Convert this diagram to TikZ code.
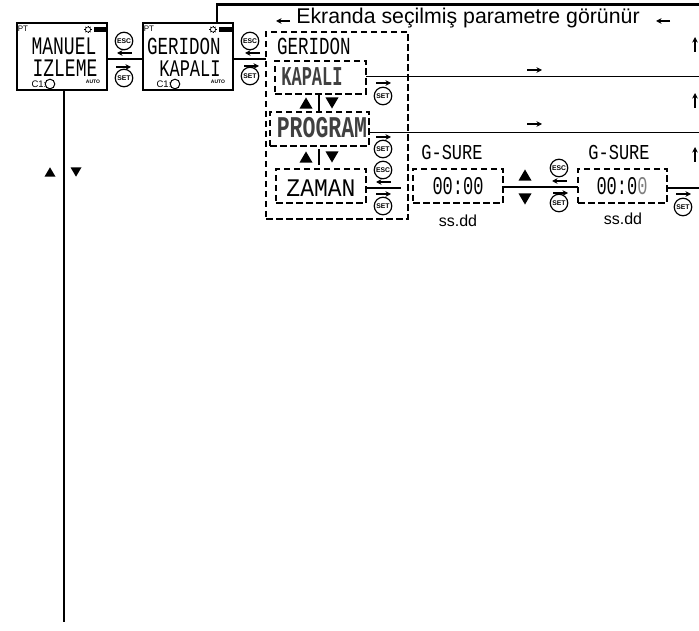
\documentclass[tikz,border=0pt]{standalone}
\usepackage{fontspec}
\setmainfont{Liberation Sans}
\newfontfamily\lcdfont{Liberation Mono}
\usetikzlibrary{arrows.meta}
\newcommand{\lcd}[3]{\scalebox{1}[#2]{\fontsize{#1}{#1}\lcdfont #3}}
\newcommand{\uptri}[3]{\fill (#1-#3,#2+0.85*#3) -- (#1+#3,#2+0.85*#3) -- (#1,#2-0.85*#3) -- cycle;}
\newcommand{\dntri}[3]{\fill (#1-#3,#2-0.85*#3) -- (#1+#3,#2-0.85*#3) -- (#1,#2+0.85*#3) -- cycle;}
\tikzset{
  lcdbox/.style={draw,line width=1.5pt,minimum width=90pt,minimum height=67pt,inner sep=0pt,outer sep=0pt},
  dashbox/.style={draw,line width=2.2pt,dash pattern=on 6.5pt off 3.5pt,inner sep=0pt,outer sep=0pt},
  keyb/.style={draw,circle,line width=1.2pt,minimum size=17.5pt,inner sep=0pt,font=\fontsize{6.8}{6.8}\selectfont\bfseries},
  conn/.style={line width=1.6pt},
  topconn/.style={line width=2.2pt},
  arr/.style={line width=1.3pt,-{Stealth[length=5.5pt,width=5.5pt]}},
  txt/.style={inner sep=0pt},
}
\begin{document}
\begin{tikzpicture}[x=1pt,y=-1pt]
\useasboundingbox (0,0) rectangle (699,631);
% displays
\node[lcdbox] (b1) at (62,56.5) {};
\node[lcdbox] (b2) at (188,56.5) {};
\node[txt,font=\fontsize{8}{8}\selectfont] (pt1) at (23,28.5) {PT};
\node[txt,font=\fontsize{8}{8}\selectfont] (pt2) at (149,28.5) {PT};
\node[txt] (t1a) at (64,46) {\lcd{18}{1.4}{MANUEL}};
\node[txt] (t1b) at (65,68.5) {\lcd{18}{1.4}{IZLEME}};
\node[txt] (t2a) at (184,46) {\lcd{17.5}{1.4}{GERIDON}};
\node[txt] (t2b) at (190,68.5) {\lcd{17}{1.4}{KAPALI}};
\node[txt,font=\fontsize{9.5}{9.5}\selectfont] (c1) at (39,84) {C1:};
\node[txt,font=\fontsize{9.5}{9.5}\selectfont] (c2) at (164,84) {C1:};
\draw[line width=1pt] (50,84) circle (4.8);
\draw[line width=1pt] (175,84) circle (4.8);
\node[txt,font=\fontsize{5}{5}\selectfont\bfseries] (a1) at (93,82) {AUTO};
\node[txt,font=\fontsize{5}{5}\selectfont\bfseries] (a2) at (218,82) {AUTO};
\foreach \sx/\bx in {88/94,213/219}{
  \draw[line width=.7pt] (\sx,29.5) circle (2.6);
  \foreach \an in {0,45,...,315}{\draw[line width=.4pt] (\sx,29.5) ++(\an:2.6) -- ++(\an:1.2);}
  \fill (\bx,27) rectangle (\bx+13,32);
}
% top banner
\coordinate (topright) at (699,4.5);
\draw[topconn] (b2.north -| 217,23) |- (topright);
\node[txt,font=\fontsize{21.3}{21.3}\selectfont] (banner) at (468,18.5) {Ekranda seçilmiş parametre görünür};
\foreach \ax in {290,670}{\draw[arr] (\ax,21) -- (\ax-14,21);}
% dashed groups
\node[dashbox,minimum width=142pt,minimum height=187pt] (outer) at (337,125.5) {};
\node[dashbox,minimum width=91pt,minimum height=33pt] (kapali) at (320.5,77.5) {};
\node[dashbox,minimum width=99pt,minimum height=34pt] (program) at (319.5,129) {};
\node[dashbox,minimum width=90pt,minimum height=34pt] (zaman) at (321,186) {};
\node[dashbox,minimum width=90pt,minimum height=34pt] (sure1) at (458,186) {};
\node[dashbox,minimum width=89pt,minimum height=34pt] (sure2) at (622.5,186) {};
\node[txt] (tg) at (314,46) {\lcd{17.5}{1.4}{GERIDON}};
\node[txt] (tk) at (312,77) {\lcd{17}{1.6}{\color{black!75}\bfseries KAPALI}};
\node[txt] (tp) at (322,128) {\lcd{21.5}{1.4}{\color{black!75}\bfseries PROGRAM}};
\node[txt] (tz) at (321,188) {\lcd{23}{1.1}{ZAMAN}};
\node[txt] (ts1) at (452,152) {\lcd{17}{1.25}{G-SURE}};
\node[txt] (ts2) at (619,152) {\lcd{17}{1.25}{G-SURE}};
\node[txt] (tv1) at (458,186) {\lcd{17}{1.5}{00:00}};
\node[txt] (tv2) at (622,186) {\lcd{17}{1.5}{00:0{\color{gray}0}}};
\node[txt,font=\fontsize{16}{16}\selectfont] (u1) at (458,220.5) {ss.dd};
\node[txt,font=\fontsize{16}{16}\selectfont] (u2) at (623,218.5) {ss.dd};
% connectors
\coordinate (rk) at (699,76.5);
\coordinate (rp) at (699,132.5);
\coordinate (rs) at (699,188);
\coordinate (zend) at (401,188);
\coordinate (bot) at (64,622);
\draw[conn] ([yshift=-2.5pt]b1.east) -- ([yshift=-2.5pt]b2.west);
\draw[conn] ([yshift=-2.5pt]b2.east) -- ([yshift=-2.5pt]b2.east -| outer.west);
\draw[conn] (kapali.east |- rk) -- (rk);
\draw[conn] (program.east |- rp) -- (rp);
\draw[conn] (zaman.east |- zend) -- (zend);
\draw[conn] (sure1.east |- 0,187) -- (sure2.west |- 0,187);
\draw[conn] (sure2.east |- rs) -- (rs);
\draw[conn] (b1.south -| bot) -- (bot);
% keys
\foreach \n/\kx/\ky/\kt in {e1/124/41/ESC,s1/124/78/SET,e2/250/41/ESC,s2/250/76/SET,s3/383/96/SET,s4/383/149/SET,e3/383/170/ESC,s5/383/206/SET,e4/559/168/ESC,s6/559/203/SET,s7/683/207/SET}{
  \node[keyb] (\n) at (\kx,\ky) {\kt};
}
% small arrows
\foreach \ax/\ay in {132/53,260/53,391/182,567/181}{\draw[arr] (\ax,\ay) -- (\ax-15,\ay);}
\foreach \ax/\ay in {116/67,244/66,376/83,376/137,376/194,553/193,676/194,527/70,527/124}{\draw[arr] (\ax,\ay) -- (\ax+15,\ay);}
\foreach \ay in {52,108,162}{\draw[arr] (695,\ay) -- (695,\ay-15);}
% triangles and bars
\uptri{50}{172}{5.5}\dntri{76}{172}{5.5}
\uptri{306}{103}{6.5}\dntri{332}{103}{6.5}
\uptri{306}{157}{6.5}\dntri{332}{157}{6.5}
\uptri{525}{175}{6.5}\dntri{525}{199}{6.5}
\draw[line width=1.1pt] (319,94) -- (319,112);
\draw[line width=1.1pt] (319,149) -- (319,165);
\end{tikzpicture}
\end{document}
